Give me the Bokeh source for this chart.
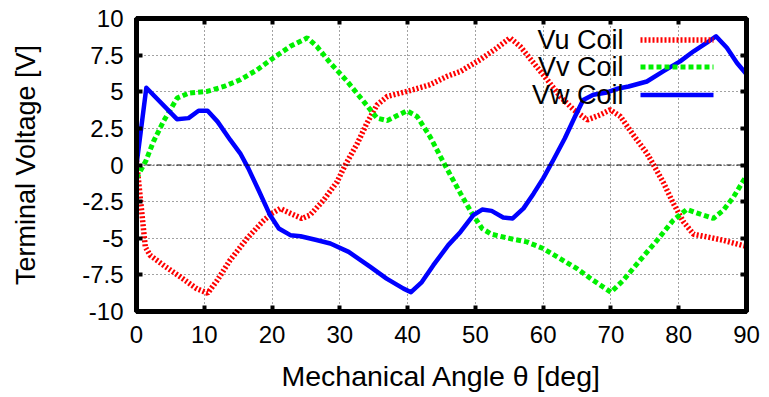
from bokeh.plotting import figure
from bokeh.models import Range1d, FixedTicker, LinearAxis, Span, Label, Arrow
from bokeh.embed import file_html
from bokeh.resources import INLINE

# ---- data ----
x_ticks = [0, 10, 20, 30, 40, 50, 60, 70, 80, 90]
y_ticks = [-10, -7.5, -5, -2.5, 0, 2.5, 5, 7.5, 10]

vu_x = [0, 1.3, 2.0, 4.0, 6.5, 8.9, 10.5, 11.9, 13.8, 16.3,
        18.8, 20.0, 21.2, 22.7, 24.4, 25.6, 27.6, 29.6, 30.8, 32.6,
        34.0, 35.5, 37.0, 39.9, 43.3, 45.8, 47.8, 50.7, 53.2, 55.1,
        56.6, 58.6, 60.6, 62.5, 64.5, 66.5, 68.4, 69.9, 71.4, 73.3,
        75.3, 76.3, 77.8, 79.2, 80.7, 82.2, 84.2, 86.6, 89.3, 90]
vu_y = [0.3, -5.6, -6.16, -6.85, -7.65, -8.45, -8.75, -7.88, -6.5, -5.02,
        -3.77, -3.3, -2.97, -3.3, -3.65, -3.42, -2.4, -1.14, 0.0, 1.49,
        2.86, 4.11, 4.68, 5.02, 5.48, 6.05, 6.39, 7.19, 7.99, 8.68,
        8.1, 6.96, 5.82, 4.68, 3.77, 3.08, 3.42, 3.77, 3.31, 2.05,
        0.8, 0.0, -1.26, -2.62, -3.88, -4.73, -4.91, -5.14, -5.48, -5.55]

vv_x = [0, 1.4, 2.5, 4.0, 6.0, 7.7, 10.4, 12.9, 15.3, 17.8,
        20.2, 22.7, 25.2, 26.6, 28.6, 31.1, 33.5, 35.5, 37.0, 38.4,
        39.9, 41.4, 43.3, 45.5, 47.8, 49.5, 51.0, 52.4, 55.1, 57.6,
        60.0, 62.5, 65.0, 67.4, 70.0, 71.8, 74.3, 76.8, 79.2, 81.2,
        83.2, 85.1, 86.6, 88.1, 89.6, 90]
vv_y = [-0.9, 0.3, 1.6, 3.0, 4.57, 4.91, 5.02, 5.36, 5.82, 6.5,
        7.31, 8.1, 8.68, 8.1, 6.96, 5.7, 4.34, 3.2, 3.03, 3.36,
        3.7, 3.31, 1.94, 0.0, -1.94, -3.31, -4.34, -4.73, -5.02, -5.25,
        -5.7, -6.39, -7.08, -7.88, -8.68, -7.88, -6.5, -5.14, -3.77, -3.03,
        -3.36, -3.65, -3.08, -2.17, -1.03, -0.75]

vw_x = [0, 1.45, 5.97, 7.68, 9.16, 10.49, 11.96, 13.83, 15.3, 16.5,
        18.0, 19.7, 21.0, 22.7, 24.2, 26.4, 28.6, 31.3, 34.5, 36.9,
        39.4, 40.5, 42.1, 43.8, 46.0, 47.8, 49.7, 51.0, 52.4, 54.1,
        55.5, 57.1, 58.6, 60.0, 61.5, 63.2, 64.7, 65.9, 67.4, 69.4,
        70.9, 72.6, 75.3, 77.7, 80.2, 82.2, 84.1, 85.5, 87.1, 88.6, 90]
vw_y = [0, 5.27, 3.13, 3.2, 3.7, 3.7, 2.96, 1.71, 0.8, -0.23,
        -1.71, -3.42, -4.33, -4.79, -4.86, -5.1, -5.36, -5.93, -6.96, -7.76,
        -8.44, -8.68, -7.99, -6.84, -5.47, -4.57, -3.42, -3.04, -3.13, -3.58,
        -3.65, -2.96, -1.94, -0.91, 0.34, 1.83, 3.31, 4.43, 4.8, 4.95,
        5.2, 5.36, 5.7, 6.39, 7.07, 7.76, 8.33, 8.79, 8.0, 6.96, 6.2]

series_names = ["Vu Coil", "Vv Coil", "Vw Coil"]
x_label = "Mechanical Angle θ [deg]"
y_label = "Terminal Voltage [V]"

FONT = "Liberation Sans"

p = figure(width=769, height=397, output_backend="svg", toolbar_location=None,
           x_range=Range1d(0, 90), y_range=Range1d(-10, 10),
           min_border_left=136, min_border_right=23, min_border_top=18,
           min_border_bottom=86, background_fill_color="white",
           border_fill_color="white")

p.outline_line_color = "black"
p.outline_line_width = 5

xt = FixedTicker(ticks=x_ticks)
yt = FixedTicker(ticks=y_ticks)
ylabels = {t: ("%g" % t) for t in y_ticks}


def style_axis(ax, show_labels=True):
    ax.axis_line_color = "black"
    ax.axis_line_width = 5
    ax.major_tick_in = 6
    ax.major_tick_out = 0
    ax.major_tick_line_width = 4
    ax.major_tick_line_color = "black"
    ax.minor_tick_line_color = None
    ax.major_label_text_font = FONT
    if show_labels:
        ax.major_label_text_color = "black"
        ax.major_label_text_font_size = "24px"
    else:
        ax.major_label_text_color = None
        ax.major_label_text_font_size = "1px"
        ax.major_label_standoff = 0
    ax.axis_label_text_font = FONT
    ax.axis_label_text_font_style = "normal"
    ax.axis_label_text_color = "black"


p.xaxis.ticker = xt
p.yaxis.ticker = yt
p.yaxis.major_label_overrides = ylabels
style_axis(p.xaxis[0])
style_axis(p.yaxis[0])
p.xaxis.axis_label = x_label
p.yaxis.axis_label = y_label
p.xaxis.axis_label_text_font_size = "28.5px"
p.yaxis.axis_label_text_font_size = "27px"
p.xaxis.major_label_standoff = 14
p.yaxis.major_label_standoff = 13
p.xaxis.axis_label_standoff = 14
p.yaxis.axis_label_standoff = 38

top = LinearAxis(ticker=xt)
style_axis(top, False)
p.add_layout(top, "above")
right = LinearAxis(ticker=yt)
style_axis(right, False)
p.add_layout(right, "right")

p.xgrid.ticker = xt
p.ygrid.ticker = yt
for g in (p.xgrid[0], p.ygrid[0]):
    g.grid_line_color = "#444444"
    g.grid_line_width = 1
    g.grid_line_dash = "1 3"

p.add_layout(Span(location=0, dimension="width", line_color="black",
                  line_width=1, line_dash="5 2 1 2"))

RED, GREEN, BLUE = "#ff0000", "#00f000", "#0000ff"
styles = [
    dict(line_color=RED, line_width=5.5, line_dash="2 2"),
    dict(line_color=GREEN, line_width=5, line_dash="5 3"),
    dict(line_color=BLUE, line_width=4.5),
]

p.line(vu_x, vu_y, line_cap="butt", **styles[0])
p.line(vv_x, vv_y, line_cap="butt", **styles[1])
p.line(vw_x, vw_y, line_cap="butt", line_join="round", **styles[2])

# custom gnuplot-style legend (text right-aligned, sample on the right)
frame_h = 397 - 18 - 86
rows = [21.5, 48.5, 76.5]
for name, st, r in zip(series_names, styles, rows):
    ys = frame_h - r
    p.add_layout(Label(x=487, y=ys, x_units="screen", y_units="screen",
                       text=name, text_align="right", text_baseline="middle",
                       text_font=FONT, text_font_size="27px", text_color="black"))
    p.add_layout(Arrow(x_start=504, y_start=ys, x_end=577, y_end=ys,
                       start_units="screen", end_units="screen", end=None,
                       **st))

open("out.html", "w").write(file_html(p, INLINE))
